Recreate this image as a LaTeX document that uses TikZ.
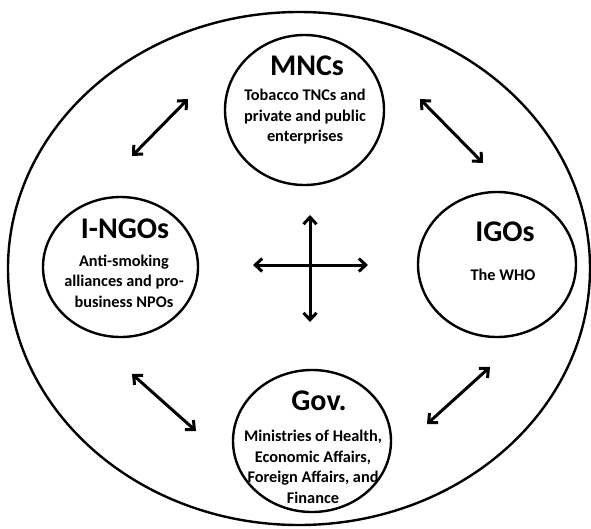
\documentclass[tikz,border=0pt]{standalone}
\usepackage{fontspec}
\setmainfont{Carlito}
\usetikzlibrary{arrows.meta,shapes.geometric}
\begin{document}
\begin{tikzpicture}[x=1pt,y=-1pt,
  actor/.style={draw,line width=2.4pt,ellipse,inner sep=0pt},
  title/.style={font=\bfseries\fontsize{30}{33}\selectfont,inner sep=0pt},
  detail/.style={font=\bfseries\fontsize{16.3}{20.5}\selectfont,align=center,inner sep=0pt},
  link/.style={line width=3pt,{Straight Barb[length=7pt,width=13pt]}-{Straight Barb[length=7pt,width=13pt]}}]
\useasboundingbox (0,0) rectangle (591,528);

% outer boundary
\draw[line width=2.4pt] (299,268.5) ellipse [x radius=291pt, y radius=256.5pt];

% the four actors
\node[actor,minimum width=159pt,minimum height=150pt] (mnc)  at (304.5,110) {};
\node[actor,minimum width=155pt,minimum height=140pt] (ngo)  at (120.5,267) {};
\node[actor,minimum width=158pt,minimum height=145pt] (igo)  at (497,264.5) {};
\node[actor,minimum width=158pt,minimum height=142pt] (gov)  at (312,441) {};

% labels
\node[title] (mnct) at (307,66) {MNCs};
\node[detail] (mncd) at (305,117) {Tobacco TNCs and\\private and public\\enterprises};
\node[title] (ngot) at (125,229) {I-NGOs};
\node[detail] (ngod) at (124,281) {Anti-smoking\\alliances and pro-\\business NPOs};
\node[title] (igot) at (505,232) {IGOs};
\node[detail] (igod) at (503,275) {The WHO};
\node[title] (govt) at (319,401) {Gov.};
\node[detail] (govd) at (313,467) {Ministries of Health,\\Economic Affairs,\\Foreign Affairs, and\\Finance};

% arrow end points
\coordinate (tl1) at (132,156); \coordinate (tl2) at (188,99);
\coordinate (tr1) at (420,99);  \coordinate (tr2) at (483,163);
\coordinate (bl1) at (132,374); \coordinate (bl2) at (196,431);
\coordinate (br1) at (490,367); \coordinate (br2) at (427,424);
\coordinate (cl) at (253,265);  \coordinate (cr) at (368,265);
\coordinate (ct) at (310,215);  \coordinate (cb) at (310,322);

% relations
\draw[link] (tl1) -- (tl2);
\draw[link] (tr1) -- (tr2);
\draw[link] (bl1) -- (bl2);
\draw[link] (br1) -- (br2);
\draw[link] (cl) -- (cr);
\draw[link] (ct) -- (cb);
\end{tikzpicture}
\end{document}
